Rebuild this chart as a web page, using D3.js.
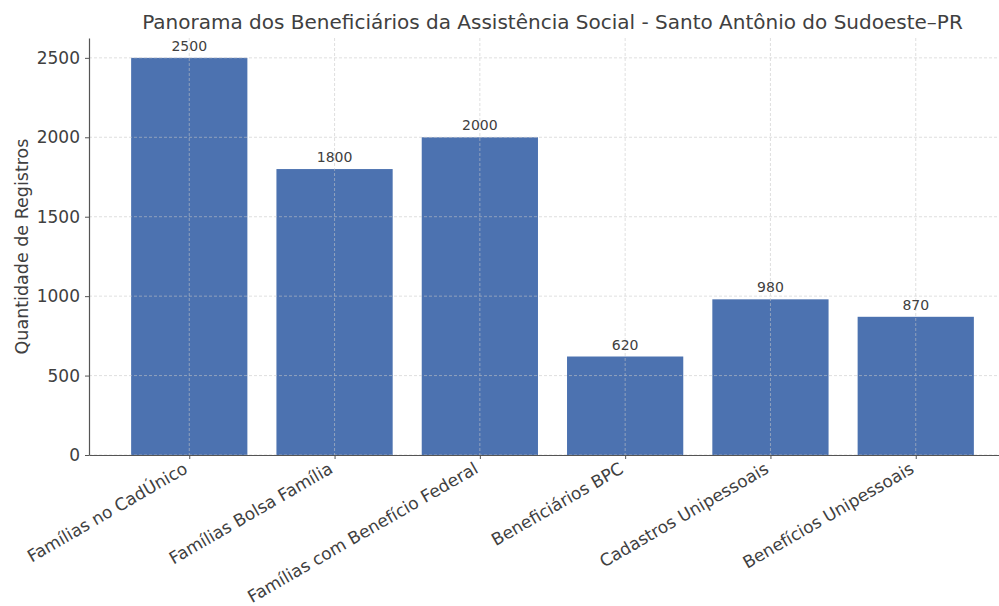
<!DOCTYPE html>
<html><head><meta charset="utf-8">
<script src="https://cdn.jsdelivr.net/npm/d3@7"></script>
<style>body{margin:0;background:#fff}svg{display:block;font-family:"DejaVu Sans",sans-serif}</style>
</head><body>
<script>
const categories = ["Famílias no CadÚnico","Famílias Bolsa Família","Famílias com Benefício Federal","Beneficiários BPC","Cadastros Unipessoais","Benefícios Unipessoais"];
const values = [2500,1800,2000,620,980,870];
const yTicks = [0,500,1000,1500,2000,2500];
const title = "Panorama dos Beneficiários da Assistência Social - Santo Antônio do Sudoeste–PR";
const yLabel = "Quantidade de Registros";

(function(){
const W=999,H=606;
const svg=d3.select("body").append("svg").attr("width",W).attr("height",H);
const mL=89,mR=1016,mT=38,mB=455;
const x=d3.scaleLinear().domain([-0.69,categories.length-1+0.69]).range([mL,mR]);
const y=d3.scaleLinear().domain([0,2625]).range([mB,mT]);
const bw=x(0.4)-x(0);
const textCol="#404040";

svg.append("g").selectAll("rect").data(values).join("rect")
 .attr("x",(d,i)=>x(i)-bw).attr("width",bw*2)
 .attr("y",d=>y(d)).attr("height",d=>y(0)-y(d))
 .attr("fill","#4C72B0");

const grid=svg.append("g").attr("stroke","#c8c8c8").attr("stroke-dasharray","3,2").attr("stroke-width",0.8).attr("opacity",0.7);
grid.selectAll(".gy").data(yTicks).join("line").attr("x1",mL).attr("x2",mR).attr("y1",d=>y(d)).attr("y2",d=>y(d));
grid.selectAll(".gx").data(categories).join("line").attr("x1",(d,i)=>x(i)).attr("x2",(d,i)=>x(i)).attr("y1",mT).attr("y2",mB);

const ya=svg.append("g").attr("transform",`translate(${mL},0)`).call(d3.axisLeft(y).tickValues(yTicks).tickFormat(d3.format("d")).tickSize(4).tickPadding(5).tickSizeOuter(0));
ya.select(".domain").attr("stroke","#555").attr("stroke-width",1.2);
ya.selectAll(".tick line").attr("stroke","#555");
ya.selectAll("text").attr("font-size",17).attr("fill",textCol).attr("font-family","DejaVu Sans");

const xa=svg.append("g").attr("transform",`translate(0,${mB})`).call(d3.axisBottom(x).tickValues(d3.range(categories.length)).tickFormat(i=>categories[i]).tickSize(4).tickSizeOuter(0));
xa.select(".domain").attr("stroke","#555").attr("stroke-width",1.2);
xa.selectAll(".tick line").attr("stroke","#555");
xa.selectAll("text").attr("font-size",17).attr("fill",textCol).attr("font-family","DejaVu Sans")
 .attr("text-anchor","end").attr("dy",null).attr("y",0)
 .attr("transform","translate(-1,17) rotate(-30)");

svg.append("g").selectAll("text").data(values).join("text")
 .attr("x",(d,i)=>x(i)).attr("y",d=>y(d)-7)
 .attr("text-anchor","middle").attr("font-size",14).attr("fill",textCol).text(d=>d);

svg.append("text").attr("x",(mL+mR)/2).attr("y",29).attr("text-anchor","middle")
 .attr("font-size",20).attr("fill",textCol).text(title);

svg.append("text").attr("transform",`translate(28,${(mT+mB)/2}) rotate(-90)`).attr("text-anchor","middle")
 .attr("font-size",17.5).attr("fill",textCol).text(yLabel);
})();
</script>
</body></html>
